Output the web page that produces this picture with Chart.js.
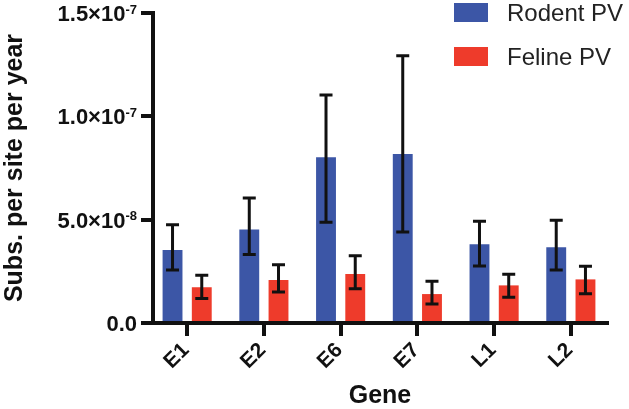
<!DOCTYPE html>
<html>
<head>
<meta charset="utf-8">
<script src="https://cdn.jsdelivr.net/npm/chart.js@4/dist/chart.umd.min.js"></script>
<style>
  body { margin: 0; background: #fff; }
  #wrap { position: relative; width: 629px; height: 409px; }
  .leg { position: absolute; font-family: "Liberation Sans", Arial, sans-serif; font-size: 24px; color: #222; }
  .box { position: absolute; width: 34px; height: 19px; }
</style>
</head>
<body>
<div id="wrap">
  <canvas id="chart" width="629" height="409"></canvas>
  <div class="box" style="left:454px; top:3px; background:#3c56a6;"></div>
  <div class="leg" style="left:507px; top:-1px;">Rodent PV</div>
  <div class="box" style="left:454px; top:47px; background:#ee3b2b;"></div>
  <div class="leg" style="left:507px; top:43px;">Feline PV</div>
</div>
<script>
// ---- data ----
const genes = ['E1', 'E2', 'E6', 'E7', 'L1', 'L2'];

const rodentMean = [3.53e-8, 4.53e-8, 8.02e-8, 8.18e-8, 3.81e-8, 3.66e-8];
const rodentHigh = [4.76e-8, 6.05e-8, 1.103e-7, 1.293e-7, 4.92e-8, 4.97e-8];
const rodentLow  = [2.56e-8, 3.32e-8, 4.87e-8, 4.40e-8, 2.76e-8, 2.56e-8];

const felineMean = [1.73e-8, 2.08e-8, 2.37e-8, 1.40e-8, 1.82e-8, 2.11e-8];
const felineHigh = [2.31e-8, 2.82e-8, 3.26e-8, 2.02e-8, 2.36e-8, 2.74e-8];
const felineLow  = [1.18e-8, 1.50e-8, 1.66e-8, 0.92e-8, 1.24e-8, 1.42e-8];

// y tick labels: mantissa part and superscript exponent
const yTickBase = ['0.0', '5.0×10', '1.0×10', '1.5×10'];
const yTickExp  = ['', '-8', '-7', '-7'];

const FONT = '"Liberation Sans", Arial, Helvetica, sans-serif';

// error bars (whiskers with caps) drawn on top of the bars
const errorBars = {
    id: 'errorBars',
    afterDatasetsDraw(chart) {
        const ctx = chart.ctx;
        const y = chart.scales.y;
        const ranges = [[rodentLow, rodentHigh], [felineLow, felineHigh]];
        ctx.save();
        ctx.strokeStyle = '#111';
        ctx.lineWidth = 3;
        ranges.forEach((r, i) => {
            chart.getDatasetMeta(i).data.forEach((bar, j) => {
                const yl = y.getPixelForValue(r[0][j]);
                const yh = y.getPixelForValue(r[1][j]);
                ctx.beginPath();
                ctx.moveTo(bar.x, yl); ctx.lineTo(bar.x, yh);
                ctx.moveTo(bar.x - 6.5, yl); ctx.lineTo(bar.x + 6.5, yl);
                ctx.moveTo(bar.x - 6.5, yh); ctx.lineTo(bar.x + 6.5, yh);
                ctx.stroke();
            });
        });
        ctx.restore();
    }
};

// y tick labels with a real superscript exponent
const yLabels = {
    id: 'yLabels',
    afterDraw(chart) {
        const ctx = chart.ctx;
        const y = chart.scales.y;
        const xr = y.right - 12 - 4;
        ctx.save();
        ctx.fillStyle = '#111';
        ctx.textBaseline = 'alphabetic';
        y.ticks.forEach((t, i) => {
            const py = y.getPixelForTick(i);
            ctx.font = 'bold 13px ' + FONT;
            const ew = yTickExp[i] ? ctx.measureText(yTickExp[i]).width : 0;
            if (yTickExp[i]) {
                ctx.textAlign = 'right';
                ctx.fillText(yTickExp[i], xr, py + 0.5);
            }
            ctx.font = 'bold 22px ' + FONT;
            ctx.textAlign = 'right';
            ctx.fillText(yTickBase[i], xr - ew, py + 8);
        });
        ctx.restore();
    }
};

new Chart(document.getElementById('chart'), {
    type: 'bar',
    data: {
        datasets: [
            { label: 'Rodent PV', data: rodentMean.map((v, i) => ({ x: i, y: v })), backgroundColor: '#3c56a6' },
            { label: 'Feline PV', data: felineMean.map((v, i) => ({ x: i, y: v })), backgroundColor: '#ee3b2b' }
        ]
    },
    options: {
        responsive: false,
        animation: false,
        categoryPercentage: 0.762,
        barPercentage: 0.68,
        layout: { padding: { left: 0, right: 7, top: 13, bottom: 0 } },
        plugins: {
            legend: { display: false },
            tooltip: { enabled: false }
        },
        scales: {
            x: {
                type: 'linear',
                offset: false,
                min: -0.445,
                max: 5.47,
                afterFit(s) { s.height = 86; },
                // ticks sit half a step past each gene; the offset grid marks land on the genes
                afterBuildTicks(s) { s.ticks = genes.map((g, i) => ({ value: i + 0.5 })); },
                border: { display: true, color: '#111', width: 4 },
                grid: { display: true, offset: true, drawOnChartArea: false, color: '#111', tickLength: 13, lineWidth: 4 },
                ticks: {
                    autoSkip: false,
                    color: '#111',
                    showLabelBackdrop: false,
                    font: { family: FONT, size: 21, weight: 'bold' },
                    maxRotation: 45, minRotation: 45, padding: 2,
                    labelOffset: -39.6,
                    callback: v => genes[Math.round(v - 0.5)]
                },
                title: { display: true, text: 'Gene', color: '#111', font: { family: FONT, size: 25, weight: 'bold', lineHeight: 1 }, padding: { top: 0, bottom: 0 } }
            },
            y: {
                min: 0,
                max: 1.5e-7,
                afterFit(s) { s.width = 153; },
                border: { display: true, color: '#111', width: 4 },
                grid: { display: true, drawOnChartArea: false, color: '#111', tickLength: 12, lineWidth: 4 },
                ticks: { stepSize: 5e-8, display: false },
                title: { display: true, text: 'Subs. per site per year', color: '#111', font: { family: FONT, size: 25, weight: 'bold' }, padding: { top: 0, bottom: 0 } }
            }
        }
    },
    plugins: [errorBars, yLabels]
});
</script>
</body>
</html>
